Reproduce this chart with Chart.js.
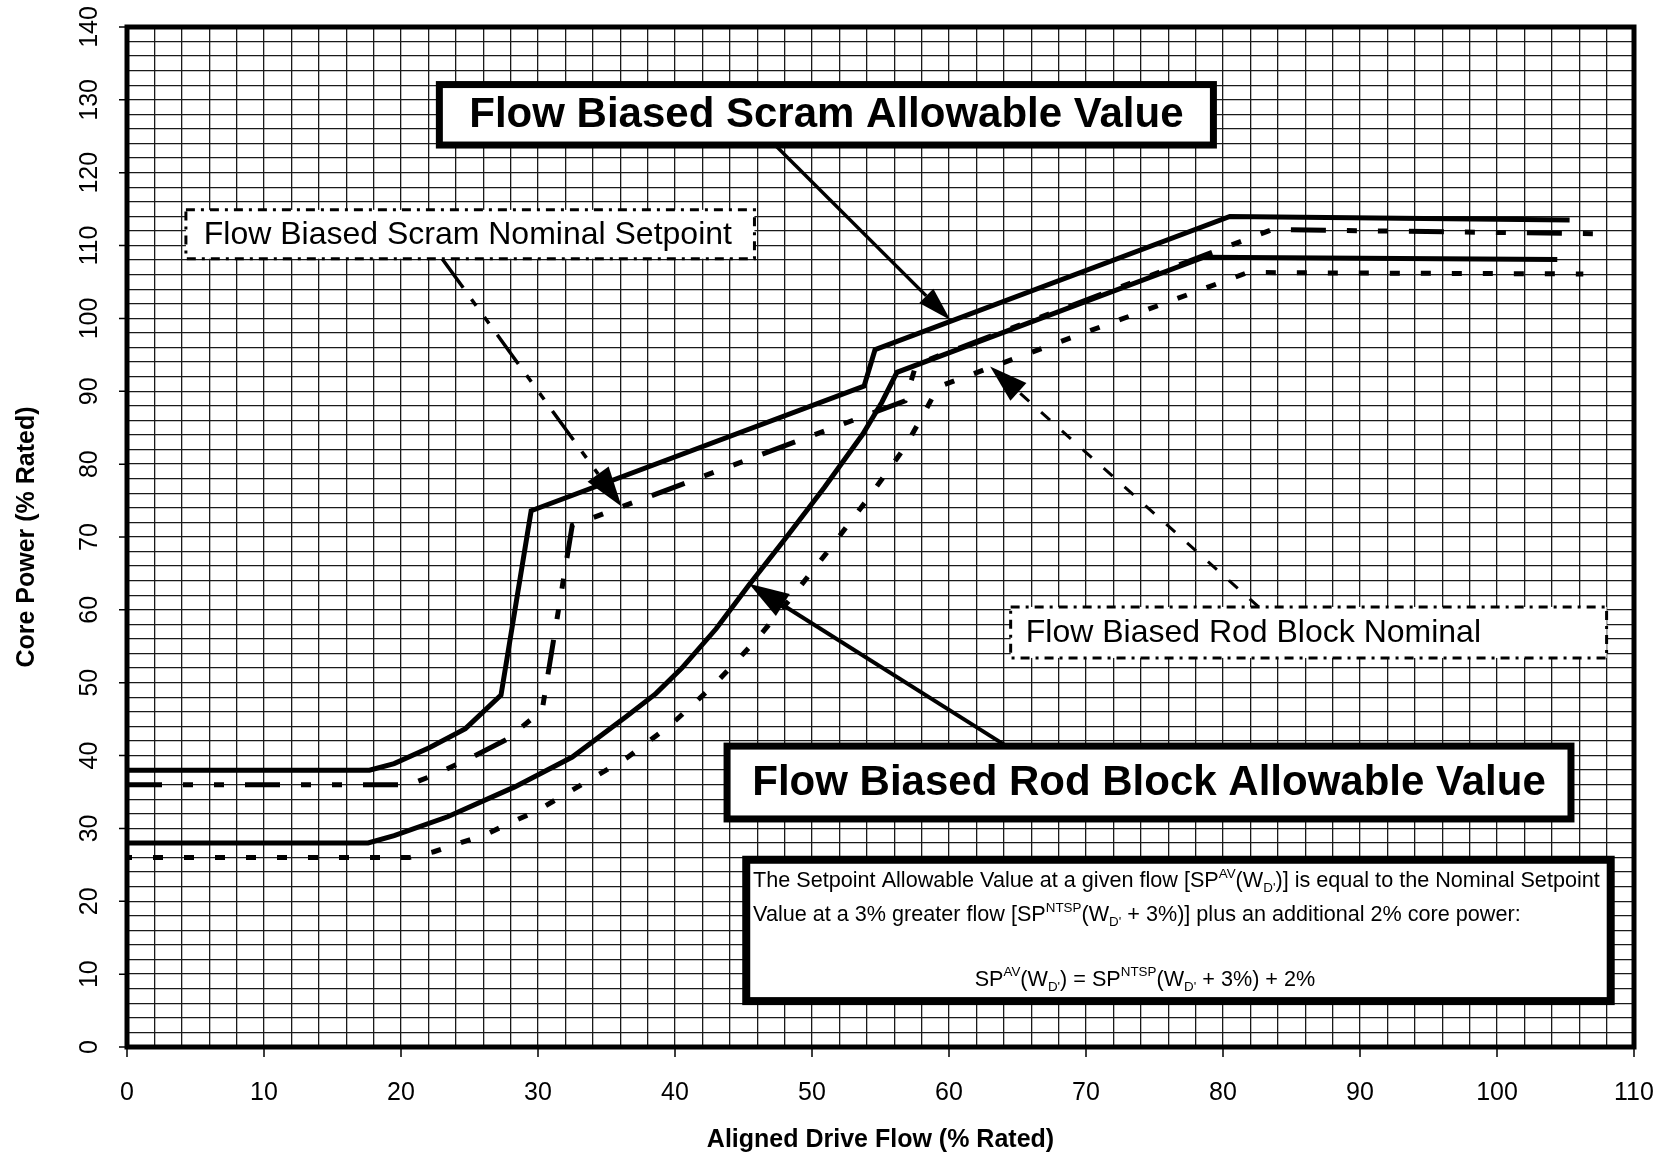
<!DOCTYPE html>
<html>
<head>
<meta charset="utf-8">
<script src="https://cdn.jsdelivr.net/npm/chart.js@4.4.1/dist/chart.umd.min.js"></script>
<style>
  html, body { margin: 0; padding: 0; background: #fff; }
</style>
</head>
<body>
<canvas id="myChart" width="1664" height="1157"></canvas>
<script>
// Label tick pada sumbu
const xTickLabels = [0, 10, 20, 30, 40, 50, 60, 70, 80, 90, 100, 110];
const yTickLabels = [0, 10, 20, 30, 40, 50, 60, 70, 80, 90, 100, 110, 120, 130, 140];

// Flow Biased Scram Allowable Value (garis tebal)
const scramAvFlow  = [0, 17.7, 19.5, 22.1, 24.7, 27.3, 29.5, 53.8, 54.6, 80.5, 105.3];
const scramAvPower = [38, 38, 38.9, 41.1, 43.7, 48.3, 73.6, 90.7, 95.7, 114.0, 113.5];

// Flow Biased Scram Nominal Setpoint (garis putus-putus)
const scramNomFlow  = [0, 20.6, 22.5, 25.1, 27.7, 30.3, 32.5, 56.8, 57.6, 83.6, 108.4];
const scramNomPower = [36, 36, 37.4, 39.7, 42.2, 46.2, 71.6, 88.7, 93.7, 112.2, 111.6];

// Flow Biased Rod Block Allowable Value (garis tebal)
const rodAvFlow  = [0, 17.6, 19.5, 23.4, 28.3, 32.5, 36.4, 38.6, 40.5, 43.0, 45.4, 48.1, 50.9, 53.7, 55.1, 56.2, 78.6, 104.4];
const rodAvPower = [28, 28, 29.0, 31.6, 35.7, 39.8, 45.3, 48.5, 52.0, 57.4, 63.4, 69.9, 76.8, 84.1, 88.5, 92.6, 108.4, 108.1];

// Flow Biased Rod Block Nominal (garis titik-titik)
const rodNomFlow  = [0, 20.6, 22.4, 24.3, 26.1, 27.9, 29.9, 32.9, 36.5, 39.8, 42.8, 45.9, 48.5, 51.1, 53.9, 56.7, 58.1, 59.2, 81.8, 106.3];
const rodNomPower = [26, 26, 26.8, 28.0, 29.1, 30.7, 32.4, 35.7, 39.7, 44.4, 49.6, 55.8, 61.7, 67.9, 74.8, 82.1, 86.7, 90.6, 106.3, 106.1];

const fontKeluarga = "'Liberation Sans', Arial, Helvetica, sans-serif";

// Menggabungkan array x dan y menjadi titik
function toPoints(xs, ys) {
    return xs.map(function (x, i) { return { x: x, y: ys[i] }; });
}

// Kotak label (koordinat data)
const kotakLabel = [
    { text: 'Flow Biased Scram Allowable Value', x1: 22.8, x2: 79.3, y1: 132.1, y2: 123.8, bold: true },
    { text: 'Flow Biased Scram Nominal Setpoint', x1: 4.3, x2: 45.8, y1: 114.9, y2: 108.2, tx: 5.6 },
    { text: 'Flow Biased Rod Block Nominal', x1: 64.5, x2: 108.0, y1: 60.4, y2: 53.4, tx: 65.6 },
    { text: 'Flow Biased Rod Block Allowable Value', x1: 43.8, x2: 105.4, y1: 41.3, y2: 31.3, bold: true }
];

// Panah penunjuk (koordinat data)
const panah = [
    { from: [47.3, 123.8], to: [60.1, 99.8], dash: [], lw: 3.5, head: 34, half: 10 },
    { from: [64.2, 41.3], to: [45.4, 63.6], dash: [], lw: 4, head: 40, half: 13 },
    { from: [23.0, 108.2], to: [36.1, 74.2], dash: [36, 14, 8, 14, 8, 14], lw: 3.5, head: 40, half: 13 },
    { from: [82.6, 60.4], to: [63.0, 93.4], dash: [12, 16], lw: 3, head: 38, half: 12 }
];

// Teks rumus dengan superscript / subscript
const rumus = [
    { y: 23.0, x: 45.7, parts: [{ t: 'The Setpoint Allowable Value at a given flow [SP' }, { t: 'AV', s: 'sup' }, { t: '(W' }, { t: "D'", s: 'sub' }, { t: ')] is equal to the Nominal Setpoint' }] },
    { y: 18.4, x: 45.7, parts: [{ t: 'Value at a 3% greater flow [SP' }, { t: 'NTSP', s: 'sup' }, { t: '(W' }, { t: "D'", s: 'sub' }, { t: ' + 3%)] plus an additional 2% core power:' }] },
    { y: 9.5, cx: 74.3, parts: [{ t: 'SP' }, { t: 'AV', s: 'sup' }, { t: '(W' }, { t: "D'", s: 'sub' }, { t: ') = SP' }, { t: 'NTSP', s: 'sup' }, { t: '(W' }, { t: "D'", s: 'sub' }, { t: ' + 3%) + 2%' }] }
];

function ukurBagian(ctx, parts, size) {
    let total = 0;
    parts.forEach(function (b) {
        ctx.font = (b.s ? size * 0.62 : size) + 'px ' + fontKeluarga;
        b.w = ctx.measureText(b.t).width;
        total += b.w;
    });
    return total;
}

function gambarBagian(ctx, parts, x, y, size) {
    let cx = x;
    parts.forEach(function (b) {
        ctx.font = (b.s ? size * 0.62 : size) + 'px ' + fontKeluarga;
        let dy = 0;
        if (b.s === 'sup') dy = -size * 0.42;
        if (b.s === 'sub') dy = size * 0.22;
        ctx.fillText(b.t, cx, y + dy);
        cx += b.w;
    });
}

function gambarPanah(ctx, x1, y1, x2, y2, p) {
    const ang = Math.atan2(y2 - y1, x2 - x1);
    const bx = x2 - Math.cos(ang) * p.head;
    const by = y2 - Math.sin(ang) * p.head;
    ctx.save();
    ctx.strokeStyle = '#000';
    ctx.lineWidth = p.lw;
    ctx.setLineDash(p.dash);
    ctx.beginPath();
    ctx.moveTo(x1, y1);
    ctx.lineTo(bx, by);
    ctx.stroke();
    ctx.setLineDash([]);
    ctx.fillStyle = '#000';
    ctx.beginPath();
    ctx.moveTo(x2, y2);
    ctx.lineTo(bx + Math.sin(ang) * p.half, by - Math.cos(ang) * p.half);
    ctx.lineTo(bx - Math.sin(ang) * p.half, by + Math.cos(ang) * p.half);
    ctx.closePath();
    ctx.fill();
    ctx.restore();
}

// Plugin untuk kotak, panah, bingkai dan label sumbu
const hiasanPlugin = {
    id: 'hiasan',
    afterDatasetsDraw: function (chart) {
        const ctx = chart.ctx;
        const xs = chart.scales.x;
        const ys = chart.scales.y;
        const px = function (v) { return xs.getPixelForValue(v); };
        const py = function (v) { return ys.getPixelForValue(v); };

        // Kotak rumus
        ctx.save();
        const fx1 = px(45.2), fx2 = px(108.3), fy1 = py(25.7), fy2 = py(6.3);
        ctx.fillStyle = '#fff';
        ctx.fillRect(fx1, fy1, fx2 - fx1, fy2 - fy1);
        ctx.strokeStyle = '#000';
        ctx.lineWidth = 8;
        ctx.strokeRect(fx1, fy1, fx2 - fx1, fy2 - fy1);
        ctx.fillStyle = '#000';
        ctx.textBaseline = 'alphabetic';
        ctx.textAlign = 'left';
        const size = 22;
        const lebar1 = ukurBagian(ctx, rumus[0].parts, size);
        const skala = (px(107.5) - px(45.7)) / lebar1;
        rumus.forEach(function (r) {
            const w = ukurBagian(ctx, r.parts, size) * skala;
            const x0 = r.cx !== undefined ? px(r.cx) - w / 2 : px(r.x);
            ctx.save();
            ctx.translate(x0, py(r.y) + size * 0.36);
            ctx.scale(skala, 1);
            gambarBagian(ctx, r.parts, 0, 0, size);
            ctx.restore();
        });
        ctx.restore();

        // Kotak label
        kotakLabel.forEach(function (k) {
            const x1 = px(k.x1), x2 = px(k.x2), y1 = py(k.y1), y2 = py(k.y2);
            ctx.save();
            ctx.fillStyle = '#fff';
            ctx.fillRect(x1, y1, x2 - x1, y2 - y1);
            ctx.strokeStyle = '#000';
            if (k.bold) {
                ctx.lineWidth = 7;
                ctx.setLineDash([]);
            } else {
                ctx.lineWidth = 3;
                ctx.setLineDash([9, 6, 3, 6]);
            }
            ctx.strokeRect(x1, y1, x2 - x1, y2 - y1);
            ctx.setLineDash([]);
            ctx.fillStyle = '#000';
            ctx.textBaseline = 'middle';
            if (k.bold) {
                ctx.font = 'bold 42px ' + fontKeluarga;
                ctx.textAlign = 'center';
                ctx.fillText(k.text, (x1 + x2) / 2, (y1 + y2) / 2 + 1);
            } else {
                ctx.font = '32px ' + fontKeluarga;
                ctx.textAlign = 'left';
                ctx.fillText(k.text, px(k.tx), (y1 + y2) / 2 + 1);
            }
            ctx.restore();
        });

        // Panah
        panah.forEach(function (p) {
            gambarPanah(ctx, px(p.from[0]), py(p.from[1]), px(p.to[0]), py(p.to[1]), p);
        });
    },
    afterDraw: function (chart) {
        const ctx = chart.ctx;
        const area = chart.chartArea;
        const xs = chart.scales.x;
        const ys = chart.scales.y;

        // Bingkai tebal
        ctx.save();
        ctx.strokeStyle = '#000';
        ctx.lineWidth = 5;
        ctx.strokeRect(area.left, area.top, area.right - area.left, area.bottom - area.top);

        // Garis tick kecil di luar bingkai
        ctx.lineWidth = 1.5;
        ctx.beginPath();
        yTickLabels.forEach(function (v) {
            const y = ys.getPixelForValue(v);
            ctx.moveTo(area.left - 2, y);
            ctx.lineTo(area.left - 8, y);
        });
        xTickLabels.forEach(function (v) {
            const x = xs.getPixelForValue(v);
            ctx.moveTo(x, area.bottom + 2);
            ctx.lineTo(x, area.bottom + 10);
        });
        ctx.stroke();

        // Label tick
        ctx.fillStyle = '#000';
        ctx.font = '25px ' + fontKeluarga;
        ctx.textAlign = 'center';
        ctx.textBaseline = 'middle';
        xTickLabels.forEach(function (v) {
            ctx.fillText(String(v), xs.getPixelForValue(v), area.bottom + 46);
        });
        yTickLabels.forEach(function (v) {
            ctx.save();
            ctx.translate(area.left - 37, ys.getPixelForValue(v));
            ctx.rotate(-Math.PI / 2);
            ctx.fillText(String(v), 0, 0);
            ctx.restore();
        });

        // Judul sumbu
        ctx.font = 'bold 25px ' + fontKeluarga;
        ctx.fillText('Aligned Drive Flow (% Rated)', (area.left + area.right) / 2, area.bottom + 93);
        ctx.save();
        ctx.translate(27, (area.top + area.bottom) / 2);
        ctx.rotate(-Math.PI / 2);
        ctx.fillText('Core Power (% Rated)', 0, 0);
        ctx.restore();
        ctx.restore();
    }
};

// Menunggu hingga DOM siap
document.addEventListener('DOMContentLoaded', function () {
    const ctx = document.getElementById('myChart').getContext('2d');

    const chartData = {
        datasets: [
            {
                label: 'Flow Biased Scram Allowable Value',
                data: toPoints(scramAvFlow, scramAvPower),
                borderColor: '#000',
                borderWidth: 5
            },
            {
                label: 'Flow Biased Scram Nominal Setpoint',
                data: toPoints(scramNomFlow, scramNomPower),
                borderColor: '#000',
                borderWidth: 5,
                borderDash: [35, 21, 10, 21, 10, 21]
            },
            {
                label: 'Flow Biased Rod Block Allowable Value',
                data: toPoints(rodAvFlow, rodAvPower),
                borderColor: '#000',
                borderWidth: 5
            },
            {
                label: 'Flow Biased Rod Block Nominal',
                data: toPoints(rodNomFlow, rodNomPower),
                borderColor: '#000',
                borderWidth: 5,
                borderDash: [10, 21],
                borderDashOffset: 5
            }
        ]
    };

    const chartConfig = {
        type: 'line',
        data: chartData,
        options: {
            responsive: false,
            animation: false,
            layout: { padding: { left: 127, right: 30, top: 27, bottom: 110 } },
            elements: {
                point: { radius: 0, hoverRadius: 0 },
                line: { tension: 0, fill: false }
            },
            scales: {
                x: {
                    type: 'linear',
                    min: 0,
                    max: 110,
                    ticks: { stepSize: 2, display: false },
                    grid: { color: '#1a1a1a', lineWidth: 1.3, drawTicks: false },
                    border: { display: false }
                },
                y: {
                    type: 'linear',
                    min: 0,
                    max: 140,
                    ticks: { stepSize: 2, display: false },
                    grid: { color: '#1a1a1a', lineWidth: 1.3, drawTicks: false },
                    border: { display: false }
                }
            },
            plugins: {
                legend: { display: false },
                tooltip: { enabled: false }
            }
        },
        plugins: [hiasanPlugin]
    };

    new Chart(ctx, chartConfig);
});
</script>
</body>
</html>
